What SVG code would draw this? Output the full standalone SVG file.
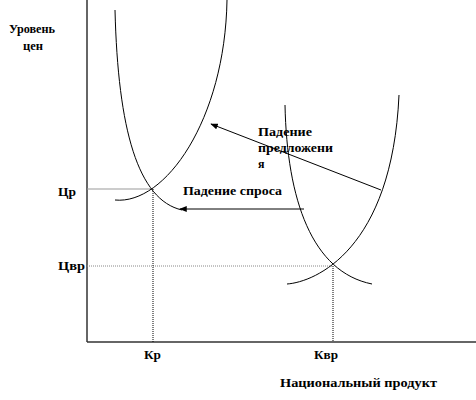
<svg xmlns="http://www.w3.org/2000/svg" width="476" height="400" viewBox="0 0 476 400">
<defs>
<marker id="ah" viewBox="0 0 10 8" refX="9" refY="4" markerWidth="8" markerHeight="6" markerUnits="userSpaceOnUse" orient="auto">
<path d="M0,0 L10,4 L0,8 Z" fill="#000"/>
</marker>
</defs>
<style>
.t{font-weight:bold;font-size:12px;fill:#000}
.axis{stroke:#333;stroke-width:1.5;fill:none}
.curve{stroke:#000;stroke-width:1;fill:none}
.arrow{stroke:#000;stroke-width:1;fill:none;marker-end:url(#ah)}
.dot{stroke:#000;stroke-width:1;stroke-dasharray:1,1;fill:none}
.gdot{stroke:#888;stroke-width:1;stroke-dasharray:1,1;fill:none}
.gline{stroke:#999;stroke-width:1;fill:none}
</style>
<rect width="476" height="400" fill="#fff"/>
<g font-family="Liberation Serif, Times New Roman, serif">
<g id="axes">
<line class="axis" x1="87" y1="0" x2="87" y2="342"/>
<line class="axis" x1="87" y1="342" x2="476" y2="342"/>
<text class="t" x="9" y="33" textLength="46" lengthAdjust="spacingAndGlyphs">Уровень</text>
<text class="t" x="23" y="50" textLength="20" lengthAdjust="spacingAndGlyphs">цен</text>
<text class="t" x="280" y="387" textLength="157" lengthAdjust="spacingAndGlyphs">Национальный продукт</text>
</g>
<g id="guides">
<line class="gline" x1="87" y1="189" x2="153" y2="189"/>
<line class="gdot" x1="87" y1="266" x2="333" y2="266"/>
<line class="dot" x1="153" y1="189" x2="153" y2="342"/>
<line class="dot" x1="333" y1="266" x2="333" y2="342"/>
<text class="t" x="58" y="196" textLength="18" lengthAdjust="spacingAndGlyphs">Цр</text>
<text class="t" x="58" y="270" textLength="27" lengthAdjust="spacingAndGlyphs">Цвр</text>
<text class="t" x="144" y="359" textLength="17" lengthAdjust="spacingAndGlyphs">Кр</text>
<text class="t" x="314" y="359" textLength="24" lengthAdjust="spacingAndGlyphs">Квр</text>
</g>
<g id="demand1"><path class="curve" d="M115,10 C118,130 138,200 182,210"/></g>
<g id="supply1"><path class="curve" d="M115,200 C165,205 225,120 227,0"/></g>
<g id="demand2"><path class="curve" d="M285,105 C287,200 312,272 372,284"/></g>
<g id="supply2"><path class="curve" d="M287,284 C315,282 392,250 399,95"/></g>
<g id="connectors">
<line class="arrow" x1="381" y1="190" x2="211" y2="124"/>
<line class="arrow" x1="304" y1="209" x2="180" y2="209"/>
</g>
<g id="labels">
<text class="t" x="258" y="136" textLength="54" lengthAdjust="spacingAndGlyphs">Падение</text>
<text class="t" x="258" y="152" textLength="75" lengthAdjust="spacingAndGlyphs">предложени</text>
<text class="t" x="258" y="168">я</text>
<text class="t" x="183" y="195" textLength="99" lengthAdjust="spacingAndGlyphs">Падение спроса</text>
</g>
</g>
</svg>
